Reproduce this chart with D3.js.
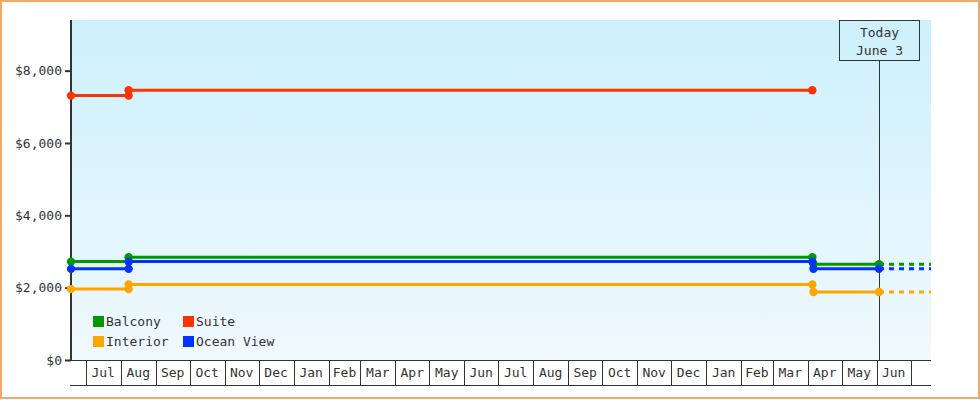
<!DOCTYPE html>
<html>
<head>
<meta charset="utf-8">
<script src="https://cdn.jsdelivr.net/npm/d3@7"></script>
<style>
  html, body { margin: 0; padding: 0; background: #fff; }
  svg { display: block; font-family: "DejaVu Sans Mono", monospace; font-size: 13px; }
  .axis-line { stroke: #333; shape-rendering: crispEdges; }
  text { fill: #333; }
</style>
</head>
<body>
<div class="js-chart"></div>
<script>
// Price history, one step per fare change.
var seriesNames = ['Balcony', 'Suite', 'Interior', 'Ocean View'];
var seriesColors = ['#009900', '#ff3300', '#ffa500', '#0033ff'];

var segmentStarts = ['2017-06-18', '2017-08-08', '2019-04-06'];
var segmentEnds = ['2017-08-08', '2019-04-05', '2019-06-03'];

var balconyPrices = [2720, 2840, 2650];
var suitePrices = [7310, 7460, null];
var interiorPrices = [1960, 2090, 1880];
var oceanViewPrices = [2520, 2720, 2520];

var yTicks = [0, 2000, 4000, 6000, 8000];
var yMax = 9400;
var dateRange = ['2017-06-18', '2019-07-19'];
var todayDate = '2019-06-03';
var todayLabel = ['Today', 'June 3'];

;(function() {
  'use strict';

  var parse = d3.timeParse('%Y-%m-%d');
  var W = 980, H = 400;
  var margin = {top: 20, left: 71, right: 49, bottom: 40};
  var plotBottom = H - margin.bottom;
  var axisRowH = 25;

  var allPrices = [balconyPrices, suitePrices, interiorPrices, oceanViewPrices];

  var svg = d3.select('.js-chart').append('svg')
      .attr('width', W)
      .attr('height', H);

  var grad = svg.append('defs').append('linearGradient')
      .attr('id', 'bg')
      .attr('x1', 0).attr('y1', 0).attr('x2', 0).attr('y2', 1);
  grad.append('stop').attr('offset', '0%').attr('stop-color', '#cdf0fc');
  grad.append('stop').attr('offset', '100%').attr('stop-color', '#f0f9fe');

  var x = d3.scaleTime()
      .domain(dateRange.map(parse))
      .range([margin.left, W - margin.right]);

  var y = d3.scaleLinear()
      .domain([0, yMax])
      .range([plotBottom, margin.top]);

  // Plot background
  svg.append('rect')
      .attr('x', x.range()[0])
      .attr('y', y.range()[1])
      .attr('width', x.range()[1] - x.range()[0])
      .attr('height', y.range()[0] - y.range()[1])
      .attr('fill', 'url(#bg)');

  // Y axis
  var yAxis = svg.append('g')
      .attr('transform', 'translate(' + margin.left + ',0)')
      .call(d3.axisLeft(y)
        .tickValues(yTicks)
        .tickSize(6)
        .tickPadding(3)
        .tickFormat(function(d) { return '$' + d3.format(',')(d); }));
  yAxis.select('.domain').remove();
  yAxis.selectAll('.tick line').attr('stroke', '#333').attr('stroke-width', 2);
  yAxis.selectAll('.tick text')
      .attr('font-family', '"DejaVu Sans Mono", monospace')
      .attr('font-size', 13)
      .attr('fill', '#333');
  svg.append('line')
      .attr('x1', margin.left).attr('x2', margin.left)
      .attr('y1', margin.top).attr('y2', plotBottom)
      .attr('stroke', '#333').attr('stroke-width', 2);

  // X axis: a row of month boxes
  var months = d3.timeMonth.range(
      d3.timeMonth.ceil(x.domain()[0]), x.domain()[1]);
  var xAxis = svg.append('g')
      .attr('transform', 'translate(0,' + plotBottom + ')')
      .call(d3.axisBottom(x)
        .tickValues(months)
        .tickSize(axisRowH)
        .tickFormat(''));
  xAxis.select('.domain').remove();
  xAxis.selectAll('.tick line').attr('stroke', '#333').attr('class', 'axis-line');

  svg.append('line').attr('class', 'axis-line')
      .attr('x1', x.range()[0]).attr('x2', x.range()[1])
      .attr('y1', plotBottom + 0.5).attr('y2', plotBottom + 0.5);
  svg.append('line').attr('class', 'axis-line')
      .attr('x1', x.range()[0] - 1).attr('x2', x.range()[1])
      .attr('y1', plotBottom + axisRowH + 0.5).attr('y2', plotBottom + axisRowH + 0.5);

  var fmtMonth = d3.timeFormat('%b');
  svg.append('g').selectAll('text')
      .data(months.slice(0, -1))
    .enter().append('text')
      .attr('x', function(d) { return (x(d) + x(d3.timeMonth.offset(d, 1))) / 2; })
      .attr('y', plotBottom + 17)
      .attr('text-anchor', 'middle')
      .text(fmtMonth);

  // Today marker
  var tx = Math.round(x(parse(todayDate))) + 0.5;
  var boxW = 80, boxTop = margin.top, boxH = 40;
  svg.append('line')
      .attr('x1', tx).attr('x2', tx)
      .attr('y1', boxTop + boxH).attr('y2', plotBottom)
      .attr('stroke', '#333').attr('stroke-width', 1);
  svg.append('rect')
      .attr('x', tx - boxW / 2).attr('y', boxTop + 0.5)
      .attr('width', boxW).attr('height', boxH)
      .attr('fill', 'none')
      .attr('stroke', '#333');
  svg.append('g').selectAll('text')
      .data(todayLabel)
    .enter().append('text')
      .attr('x', tx)
      .attr('y', function(d, i) { return boxTop + 17 + i * 18; })
      .attr('text-anchor', 'middle')
      .text(function(d) { return d; });

  // Series: step lines with markers on every change
  var line = d3.line()
      .x(function(d) { return x(d.date); })
      .y(function(d) { return y(d.value); });

  allPrices.forEach(function(prices, s) {
    var pts = [];
    prices.forEach(function(v, i) {
      if (v === null) return;
      pts.push({date: parse(segmentStarts[i]), value: v});
      pts.push({date: parse(segmentEnds[i]), value: v});
    });
    var g = svg.append('g');
    var last = prices[prices.length - 1];
    if (last !== null) {
      g.append('line')
          .attr('x1', x(parse(todayDate)))
          .attr('x2', x.range()[1])
          .attr('y1', y(last)).attr('y2', y(last))
          .attr('stroke', seriesColors[s])
          .attr('stroke-width', 3)
          .attr('stroke-dasharray', '5,5');
    }
    g.append('path')
        .datum(pts)
        .attr('d', line)
        .attr('fill', 'none')
        .attr('stroke', seriesColors[s])
        .attr('stroke-width', 3);
    g.selectAll('circle')
        .data(pts)
      .enter().append('circle')
        .attr('cx', function(d) { return x(d.date); })
        .attr('cy', function(d) { return y(d.value); })
        .attr('r', 4.2)
        .attr('fill', seriesColors[s]);
  });

  // Legend, two columns
  var legend = svg.append('g').attr('transform', 'translate(93,316)');
  var item = legend.selectAll('g')
      .data(seriesNames)
    .enter().append('g')
      .attr('transform', function(d, i) {
        return 'translate(' + (i % 2) * 90 + ',' + Math.floor(i / 2) * 20 + ')';
      });
  item.append('rect')
      .attr('width', 11).attr('height', 11)
      .attr('fill', function(d, i) { return seriesColors[i]; });
  item.append('text')
      .attr('x', 13).attr('y', 9.5)
      .text(function(d) { return d; });

  // Outer frame
  svg.append('rect')
      .attr('x', 1).attr('y', 1)
      .attr('width', W - 2).attr('height', H - 3)
      .attr('fill', 'none')
      .attr('stroke', '#eeaa66')
      .attr('stroke-width', 2);
}());
</script>
</body>
</html>
